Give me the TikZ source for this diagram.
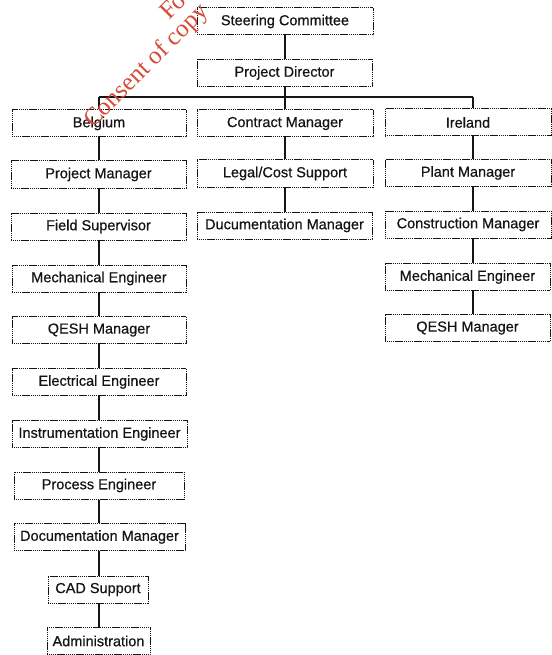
\documentclass[tikz,border=0pt]{standalone}
\usepackage{fontspec}
\setmainfont{Liberation Sans}
\newfontfamily\boxfont[FakeBold=0.5]{Liberation Sans}
\newfontfamily\wmfont{Liberation Serif}
\definecolor{wmred}{RGB}{214,74,54}
\definecolor{ink}{RGB}{20,20,20}
\begin{document}
\begin{tikzpicture}[x=1pt,y=-1pt,
  box/.style={draw=ink, fill=white, line width=1pt,
    dash pattern=on 1.3pt off 0.6pt, inner sep=0pt,
    minimum height=27pt, font=\boxfont\fontsize{14.5}{16}\selectfont, text=ink},
  link/.style={draw=ink, line width=1.4pt},
  wm/.style={text=wmred, font=\wmfont\fontsize{25}{30}\selectfont,
    rotate=45, anchor=base west, inner sep=0pt}]
\useasboundingbox (0,0) rectangle (551,655);

% top of the chart
\node[box, minimum width=176pt] (sc) at (285,21.5) {Steering Committee};
\node[box, minimum width=175pt] (pd) at (284.5,73) {Project Director};

% three branches
\node[box, minimum width=174pt] (bel) at (99,123.5) {Belgium};
\node[box, minimum width=176pt] (cm)  at (285,123.5) {Contract Manager};
\node[box, minimum width=166pt] (ire) at (468,122.5) {Ireland};

% Belgium column
\node[box, minimum width=175pt] (pm)   at (98.5,174.5) {Project Manager};
\node[box, minimum width=175pt] (fs)   at (98.5,226.5) {Field Supervisor};
\node[box, minimum width=174pt] (me)   at (99,278.5) {Mechanical Engineer};
\node[box, minimum width=174pt] (qe)   at (99,330) {QESH Manager};
\node[box, minimum width=174pt] (ee)   at (99,382) {Electrical Engineer};
\node[box, minimum width=175pt] (ie)   at (99.5,434) {Instrumentation Engineer};
\node[box, minimum width=170pt] (pe)   at (99,485.5) {Process Engineer};
\node[box, minimum width=171pt] (dm)   at (99.5,537) {Documentation Manager};
\node[box, minimum width=100pt] (cad)  at (98,589.5) {CAD Support};
\node[box, minimum width=103pt] (adm)  at (98.5,641) {Administration};

% contract column
\node[box, minimum width=176pt] (lcs)  at (285,173.5) {Legal/Cost Support};
\node[box, minimum width=175pt] (dcm)  at (284.5,225.5) {Ducumentation Manager};

% Ireland column
\node[box, minimum width=166pt] (plm)  at (468,173) {Plant Manager};
\node[box, minimum width=166pt] (con)  at (468,224.5) {Construction Manager};
\node[box, minimum width=165pt] (me2)  at (467.5,277) {Mechanical Engineer};
\node[box, minimum width=165pt] (qe2)  at (467.5,328) {QESH Manager};

% bus below the project director
\coordinate (jL) at (99,97);
\coordinate (jM) at (285,97);
\coordinate (jR) at (473,97);

\draw[link] (sc.south -| jM) -- (pd.north -| jM);
\draw[link] (pd.south -| jM) -- (jM);
\draw[link] (jL) -- (jR);
\draw[link] (jL) -- (bel.north -| jL);
\draw[link] (jM) -- (cm.north -| jM);
\draw[link] (jR) -- (ire.north -| jR);

% Belgium chain
\foreach \a/\b in {bel/pm, pm/fs, fs/me, me/qe, qe/ee, ee/ie, ie/pe, pe/dm, dm/cad, cad/adm}
  \draw[link] (\a.south -| jL) -- (\b.north -| jL);

% contract chain
\foreach \a/\b in {cm/lcs, lcs/dcm}
  \draw[link] (\a.south -| jM) -- (\b.north -| jM);

% Ireland chain
\foreach \a/\b in {ire/plm, plm/con, con/me2, me2/qe2}
  \draw[link] (\a.south -| jR) -- (\b.north -| jR);

% diagonal stamp across the upper left corner
\begin{scope}
  \clip (0,0) rectangle (551,655);
  \node[wm] (wmB) at (93,129) {Consent of copy};
  \node[wm] (wmA) at (169,21) {Fo};
\end{scope}
\end{tikzpicture}
\end{document}
